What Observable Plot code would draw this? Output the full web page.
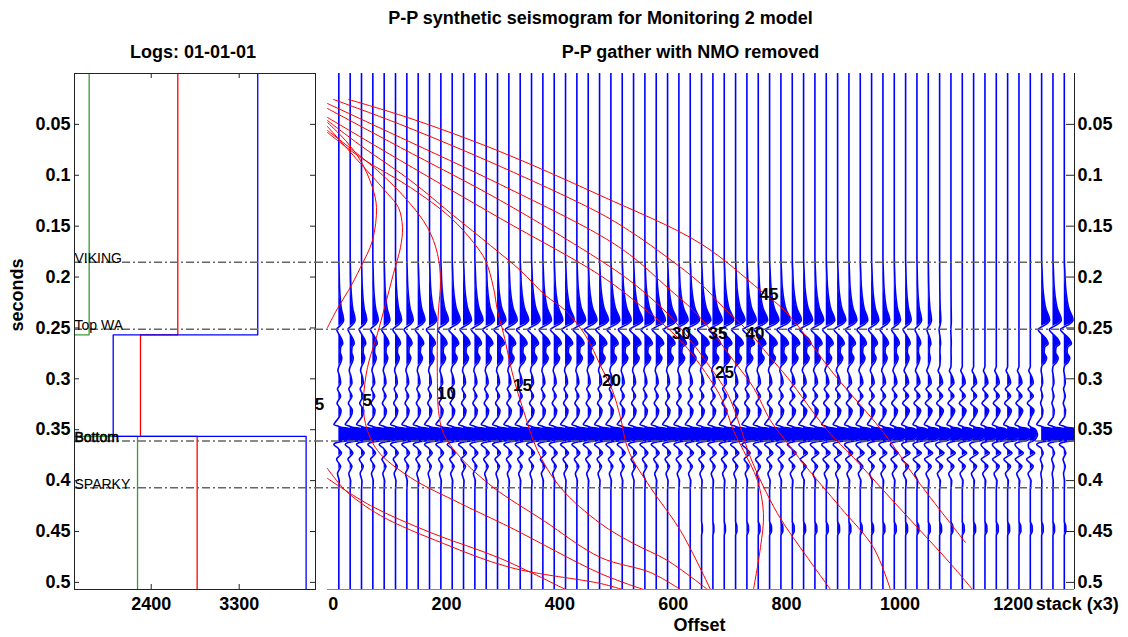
<!DOCTYPE html>
<html><head><meta charset="utf-8">
<script src="https://cdn.jsdelivr.net/npm/d3@7"></script>
<script src="https://cdn.jsdelivr.net/npm/@observablehq/plot@0.6"></script>
<style>
html,body{margin:0;padding:0;background:#fff;}
#chart{position:relative;width:1128px;height:637px;overflow:hidden;background:#fff;}
#chart svg{position:absolute;left:0;top:0;overflow:visible;background:transparent;}
</style></head><body><div id="chart"></div><script>
// ---------------- data ----------------
const mainTitle = "P-P synthetic seismogram for Monitoring 2 model";
const logTitle = "Logs: 01-01-01";
const gatherTitle = "P-P gather with NMO removed";
const yLabel = "seconds";
const xLabel = "Offset";
const stackLabel = "stack (x3)";

const timeDomain = [0, 0.507];
const timeTicks = [0.05, 0.1, 0.15, 0.2, 0.25, 0.3, 0.35, 0.4, 0.45, 0.5];

const logDomain = [1615, 4081];
const logTicks = [2400, 3300];
const layerTops = [0, 0.2568, 0.3566];
const vpLog = [3490, 2011, 3985];   // blue
const rhoLog = [2672, 2290, 2870];  // red
const vsLog = [1765, 1100, 2260];   // green

const horizonNames = ["VIKING", "Top WA", "Bottom", "SPARKY"];
const horizonTimes = [0.1854, 0.2512, 0.3611, 0.407];

const offsetDomain = [-10, 1308];
const offsetTicks = [0, 200, 400, 600, 800, 1000, 1200];
const traceOffsets = [10,30,50,70,90,110,130,150,170,190,210,230,250,270,290,310,330,350,370,390,
  410,430,450,470,490,510,530,550,570,590,610,630,650,670,690,710,730,750,770,790,
  810,830,850,870,890,910,930,950,970,990,1010,1030,1050,1070,1090,1110,1130,1150,1170,1190,1210,1230];
const stackOffsets = [1250, 1270, 1290];

// wiggle shape (time s, amplitude, event it belongs to)
const waveTime = [0, 0.180, 0.195, 0.210, 0.222, 0.232, 0.238, 0.2425, 0.246, 0.249, 0.2515, 0.254, 0.2575, 0.2615, 0.2655, 0.269, 0.274, 0.2795, 0.2835, 0.288,
  0.292, 0.298, 0.304, 0.310, 0.317, 0.324, 0.331, 0.3375,
  0.342, 0.345, 0.3475, 0.349, 0.352, 0.355, 0.358, 0.3605, 0.3625, 0.3645,
  0.368, 0.373, 0.379, 0.386, 0.393, 0.400, 0.410,
  0.440, 0.4445, 0.4495, 0.454, 0.507];
const waveAmp = [0, 0, 0.5, 1.2, 2.5, 4.5, 7, 8, 5, 0, -3.5, -2, 1.5, 5, 6.5, 3, 2.5, 5, 3.5, 0,
  -1, 1, 2, -1.5, 2, -2, 2.5, 0.5,
  -3, -5, 2, 11, 16, 18, 15, 10, -2, -5,
  -1, 3, -2.5, 2, -1.5, 0.5, 0,
  0, 1.8, 2, 0, 0];
const waveEvent = ["u","u","u","u","u","u","u","u","u","u","u","u","u","u","u","u","u","u","u","u",
  "w","w","w","w","w","w","w","w",
  "m","m","m","m","m","m","m","m","m","m",
  "w","w","w","w","w","w","w",
  "d","d","d","d","d"];

const upperGain = [0.6,0.62,0.65,0.68,0.72,0.76,0.8,0.85,0.9,0.95,
  1.0,1.0,1.02,1.03,1.05,1.05,1.06,1.07,1.08,1.08,
  1.1,1.1,1.1,1.12,1.12,1.13,1.14,1.15,1.15,1.15,
  1.16,1.16,1.17,1.17,1.18,1.18,1.18,1.18,1.17,1.16,
  1.15,1.13,1.1,1.07,1.03,1.0,0.95,0.9,0.85,0.78,
  0.7,0.58,0.4,0.15,0.05,0,0,0,0,0,0,0];
const wiggleGain = [0.9,0.9,0.9,0.9,0.9,0.9,0.9,0.9,0.9,0.9,
  1.0,1.0,1.0,1.0,1.0,1.0,1.0,1.0,1.0,1.0,
  1.0,1.0,1.0,1.0,1.0,1.0,1.0,1.0,1.0,1.0,
  1.1,1.1,1.1,1.1,1.1,1.1,1.1,1.1,1.1,1.1,
  1.3,1.3,1.3,1.3,1.3,1.3,1.3,1.3,1.3,1.3,
  1.5,1.5,1.5,1.5,1.5,1.5,1.5,1.5,1.5,1.5,1.5,1.5];
const lowerGain = [1.0,1.0,1.0,1.0,1.0,1.0,1.0,1.0,1.0,1.0,
  1.0,1.0,1.0,1.0,1.0,1.0,1.0,1.0,1.0,1.0,
  1.0,1.0,1.0,1.0,1.0,1.0,1.0,1.0,1.0,1.0,
  1.0,1.0,1.0,1.0,1.0,1.0,1.0,1.0,1.0,1.0,
  0.98,0.96,0.94,0.92,0.9,0.88,0.86,0.84,0.82,0.8,
  0.8,0.8,0.8,0.8,0.8,0.8,0.8,0.8,0.8,0.8,0.8,0.4];
const deepGain = [0,0,0,0,0,0,0,0,0,0, 0,0,0,0,0,0,0,0,0,0, 0,0,0,0,0,0,0,0,0,0, 0,0,
  0.4,0.5,0.6,0.7,0.8,0.9,
  1,1,1,1,1,1,1,1,1,1,1,1,1,1,1,1,1,1,1,1,1,1,1,1];
const stackUpperGain = [1.0, 1.05, 1.1];
const stackWiggleGain = [0.5, 0.5, 0.5];
const stackLowerGain = [1.0, 1.0, 1.0];
const stackDeepGain = [0.8, 0.8, 0.8];

// incidence-angle contours (offset, time)
const curveBulge = [[-10,0.0481],[21.7,0.0658],[48.2,0.0855],[69.3,0.1120],[76.4,0.1317],[69.3,0.1641],[48.2,0.1906],[27.0,0.2132],[7.6,0.2309],[-10,0.2496]];
const curve5 = [[-10,0.0521],[48.2,0.0884],[95.8,0.1179],[115.2,0.1317],[122.3,0.1513],[118.7,0.1710],[106.4,0.1965],[94.0,0.2231],[78.2,0.2555],[60.5,0.2889],[53.5,0.3213],[57.0,0.3439],[78.2,0.3704],[136.4,0.3970],[224.6,0.4225],[312.8,0.4461],[471.6,0.4913],[547.5,0.5070]];
const curve10 = [[-10,0.0560],[78.2,0.0953],[131.1,0.1248],[166.4,0.1513],[184.0,0.1769],[189.3,0.2034],[185.8,0.2329],[184.0,0.2555],[184.0,0.3046],[185.8,0.3311],[194.6,0.3537],[224.6,0.3773],[282.8,0.4068],[371.0,0.4392],[471.6,0.4755],[559.8,0.4903],[612.8,0.5070]];
const curve15 = [[-10,0.0580],[48.2,0.0825],[136.4,0.1120],[207.0,0.1415],[247.6,0.1661],[268.7,0.1837],[282.8,0.2103],[289.9,0.2329],[300.5,0.2555],[318.1,0.2987],[335.8,0.3311],[360.5,0.3704],[401.1,0.4068],[471.6,0.4422],[529.8,0.4618],[589.8,0.4785],[660.4,0.5070]];
const curve20 = [[-10,0.0462],[48.2,0.0707],[136.4,0.1051],[212.2,0.1395],[277.5,0.1690],[330.5,0.1936],[374.6,0.2181],[409.9,0.2329],[445.2,0.2574],[471.6,0.2869],[492.8,0.3115],[506.9,0.3380],[521.0,0.3704],[559.8,0.4068],[612.8,0.4491],[665.7,0.5070]];
const curve25 = [[-10,0.0432],[118.7,0.0855],[295.2,0.1425],[471.6,0.1985],[542.2,0.2280],[612.8,0.2623],[656.9,0.2938],[686.9,0.3213],[706.3,0.3508],[723.9,0.3704],[748.6,0.3999],[759.2,0.4323],[753.9,0.4657],[741.5,0.5070]];
const curve30 = [[-10,0.0344],[118.7,0.0727],[295.2,0.1248],[471.6,0.1837],[529.8,0.2063],[589.8,0.2358],[630.4,0.2623],[660.4,0.2849],[695.7,0.3144],[718.6,0.3478],[736.3,0.3773],[783.9,0.4323],[836.8,0.4756],[877.4,0.5070]];
const curve35 = [[-10,0.0295],[118.7,0.0629],[295.2,0.1091],[471.6,0.1592],[529.8,0.1808],[589.8,0.2103],[635.7,0.2329],[671.0,0.2555],[706.3,0.2820],[741.5,0.3085],[771.5,0.3409],[798.0,0.3606],[829.7,0.3832],[895.0,0.4264],[953.2,0.4657],[983.2,0.5070]];
const curve40 = [[0.5,0.0255],[118.7,0.0501],[295.2,0.0914],[471.6,0.1376],[529.8,0.1572],[589.8,0.1808],[648.0,0.2063],[688.6,0.2299],[736.3,0.2555],[771.5,0.2791],[801.5,0.2987],[872.1,0.3508],[918.0,0.3773],[970.9,0.4097],[1030.9,0.4461],[1089.1,0.4815],[1128.0,0.5070]];
const curve45 = [[27.0,0.0255],[131.1,0.0432],[289.9,0.0757],[471.6,0.1199],[648.0,0.1670],[753.9,0.2132],[801.5,0.2358],[882.7,0.2948],[970.9,0.3527],[1030.9,0.3999],[1115.6,0.4608]];
const curveLow1 = [[-10,0.3881],[21.7,0.4097],[83.4,0.4343],[194.6,0.4618],[312.8,0.4854],[471.6,0.5011],[510.4,0.5070]];
const curveLow2 = [[-10,0.3979],[65.8,0.4245],[171.6,0.4510],[295.2,0.4765],[409.9,0.5070]];

const angleLabels = ["5", "5", "10", "15", "20", "25", "30", "35", "40", "45"];
const angleLabelOffsets = [-24.2, 60.3, 199.9, 334.0, 491.0, 690.4, 614.5, 678.9, 744.2, 768.9];
const angleLabelTimes = [0.3252, 0.3213, 0.3149, 0.3070, 0.3016, 0.2935, 0.2555, 0.2555, 0.2555, 0.2171];

// ---------------- styling / layout ----------------
const FONT = "'Liberation Sans', Arial, Helvetica, sans-serif";
const H = 637, TOP = 73, BOTTOM = 48;
const frameH = H - TOP - BOTTOM;
const leftML = 74, leftW = 330, leftMR = 15;
const leftFrameW = leftW - leftML - leftMR;
const rightML = 327, rightW = 1128, rightMR = 54;
const rightFrameW = rightW - rightML - rightMR;
const wiggleScale = 1.76;
const blue = "#0000ff";
const lineW = 1.3;
const traceW = 1.6;
const dash = "8,3,2,3";
const svgStyle = {fontFamily: FONT, fontSize: "18px", fontWeight: "bold", background: "transparent", overflow: "visible", color: "#000"};

// ---------------- build derived tables ----------------
function stepLog(values) {
  const pts = [];
  values.forEach((v, i) => {
    const t0 = layerTops[i];
    const t1 = i + 1 < layerTops.length ? layerTops[i + 1] : timeDomain[1];
    pts.push({v, t: t0});
    pts.push({v, t: t1});
  });
  return pts;
}

function traceRows(offsets, ug, wg, lg, dg, prefix) {
  const rows = [];
  offsets.forEach((off, i) => {
    const gain = {u: ug[i], w: wg[i], m: lg[i], d: dg[i]};
    const id = prefix + i;
    let prev = null;
    waveTime.forEach((t, j) => {
      const a = wiggleScale * gain[waveEvent[j]] * waveAmp[j];
      if (prev && ((prev.a > 0 && a < 0) || (prev.a < 0 && a > 0))) {
        const tz = prev.t + (t - prev.t) * prev.a / (prev.a - a);
        rows.push({trace: id, base: off, t: tz, a: 0});
      }
      rows.push({trace: id, base: off, t, a});
      prev = {t, a};
    });
  });
  return rows;
}

const rows = traceRows(traceOffsets, upperGain, wiggleGain, lowerGain, deepGain, "g")
  .concat(traceRows(stackOffsets, stackUpperGain, stackWiggleGain, stackLowerGain, stackDeepGain, "s"));

const horizons = horizonNames.map((name, i) => ({name, t: horizonTimes[i]}));
const angleCurves = [curveBulge, curve5, curve10, curve15, curve20, curve25, curve30, curve35, curve40, curve45, curveLow1, curveLow2];
const labels = angleLabels.map((text, i) => ({text, off: angleLabelOffsets[i], t: angleLabelTimes[i]}));

// ---------------- left panel: logs ----------------
const leftPlot = Plot.plot({
  width: leftW, height: H,
  marginLeft: leftML, marginRight: leftMR, marginTop: TOP, marginBottom: BOTTOM,
  style: svgStyle,
  x: {domain: logDomain, ticks: logTicks, tickSize: 0, tickPadding: 8, tickFormat: d => String(d), label: null},
  y: {domain: timeDomain, reverse: true, ticks: timeTicks, tickSize: 0, tickPadding: 4, tickFormat: d => String(d), label: null},
  marks: [
    Plot.line(stepLog(vsLog), {x: "v", y: "t", stroke: "#3a9a3a", strokeWidth: lineW, clip: true}),
    Plot.line(stepLog(rhoLog), {x: "v", y: "t", stroke: "#ff0000", strokeWidth: lineW, clip: true}),
    Plot.line(stepLog(vpLog), {x: "v", y: "t", stroke: blue, strokeWidth: lineW, clip: true}),
    Plot.ruleY(horizons, {y: "t", stroke: "#666", strokeWidth: 1.5, strokeDasharray: dash}),
    Plot.text(horizons.filter(d => d.name !== "Bottom"), {y: "t", text: "name", frameAnchor: "left", textAnchor: "start", lineAnchor: "bottom", dy: 1, fontSize: 14, fontWeight: "normal", fill: "#000"}),
    Plot.text(horizons.filter(d => d.name === "Bottom"), {y: "t", text: "name", frameAnchor: "left", textAnchor: "start", lineAnchor: "bottom", dy: 1, fontSize: 14, fontWeight: "normal", fill: "#000", stroke: "#000", strokeWidth: 0.6}),
    Plot.frame({stroke: "#222"}),
    Plot.tickY(timeTicks, {y: d => d, insetRight: leftFrameW - 5, stroke: "#222"}),
    Plot.tickY(timeTicks, {y: d => d, insetLeft: leftFrameW - 5, stroke: "#222"}),
    Plot.tickX(logTicks, {x: d => d, insetBottom: frameH - 5, stroke: "#222"}),
    Plot.tickX(logTicks, {x: d => d, insetTop: frameH - 5, stroke: "#222"}),
    Plot.text([logTitle], {text: d => d, frameAnchor: "top", dx: -2, dy: -16, lineAnchor: "bottom", fontSize: 18, fontWeight: "bold"}),
    Plot.text([yLabel], {text: d => d, frameAnchor: "left", dx: -57, rotate: -90, fontSize: 18, fontWeight: "bold"})
  ]
});

// ---------------- right panel: gather ----------------
const rightPlot = Plot.plot({
  width: rightW, height: H,
  marginLeft: rightML, marginRight: rightMR, marginTop: TOP, marginBottom: BOTTOM,
  style: svgStyle,
  x: {domain: offsetDomain, ticks: offsetTicks, tickSize: 0, tickPadding: 8, tickFormat: d => String(d), label: null},
  y: {domain: timeDomain, reverse: true, axis: "right", ticks: timeTicks, tickSize: 0, tickPadding: 3, tickFormat: d => String(d), label: null},
  marks: [
    Plot.areaX(rows, {y: "t", x1: "base", x2: d => d.base + Math.max(0, d.a), z: "trace", fill: blue, curve: "monotone-y", clip: true}),
    Plot.line(rows, {x: d => d.base + d.a, y: "t", z: "trace", stroke: blue, strokeWidth: traceW, curve: "monotone-y", clip: true}),
    Plot.ruleY(horizons, {y: "t", stroke: "#666", strokeWidth: 1.5, strokeDasharray: dash, insetLeft: -12}),
    Plot.ruleY([timeDomain[1]], {stroke: "#888", strokeWidth: 1}),
    Plot.ruleX([offsetDomain[1]], {stroke: "#222", strokeWidth: 1}),
    Plot.tickY(timeTicks, {y: d => d, insetLeft: rightFrameW - 8, stroke: "#222"}),
    ...angleCurves.map(c => Plot.line(c, {x: d => d[0], y: d => d[1], stroke: "#ff0000", strokeWidth: 1, curve: "catmull-rom", clip: true})),
    Plot.text(labels, {x: "off", y: "t", text: "text", fontSize: 17, fontWeight: "bold", fill: "#000"}),
    Plot.text([mainTitle], {text: d => d, frameAnchor: "top-left", textAnchor: "middle", dx: 273, dy: -50, lineAnchor: "bottom", fontSize: 18, fontWeight: "bold"}),
    Plot.text([gatherTitle], {text: d => d, frameAnchor: "top-left", textAnchor: "middle", dx: 363, dy: -16, lineAnchor: "bottom", fontSize: 18, fontWeight: "bold"}),
    Plot.text([xLabel], {text: d => d, frameAnchor: "bottom-left", textAnchor: "middle", dx: 372, dy: 41, lineAnchor: "bottom", fontSize: 18, fontWeight: "bold"}),
    Plot.text([stackLabel], {text: d => d, x: stackOffsets[0], frameAnchor: "bottom", textAnchor: "start", lineAnchor: "top", dx: -6, dy: 8, fontSize: 18, fontWeight: "bold"})
  ]
});

const chart = document.getElementById("chart");
chart.appendChild(leftPlot);
chart.appendChild(rightPlot);
</script></body></html>
